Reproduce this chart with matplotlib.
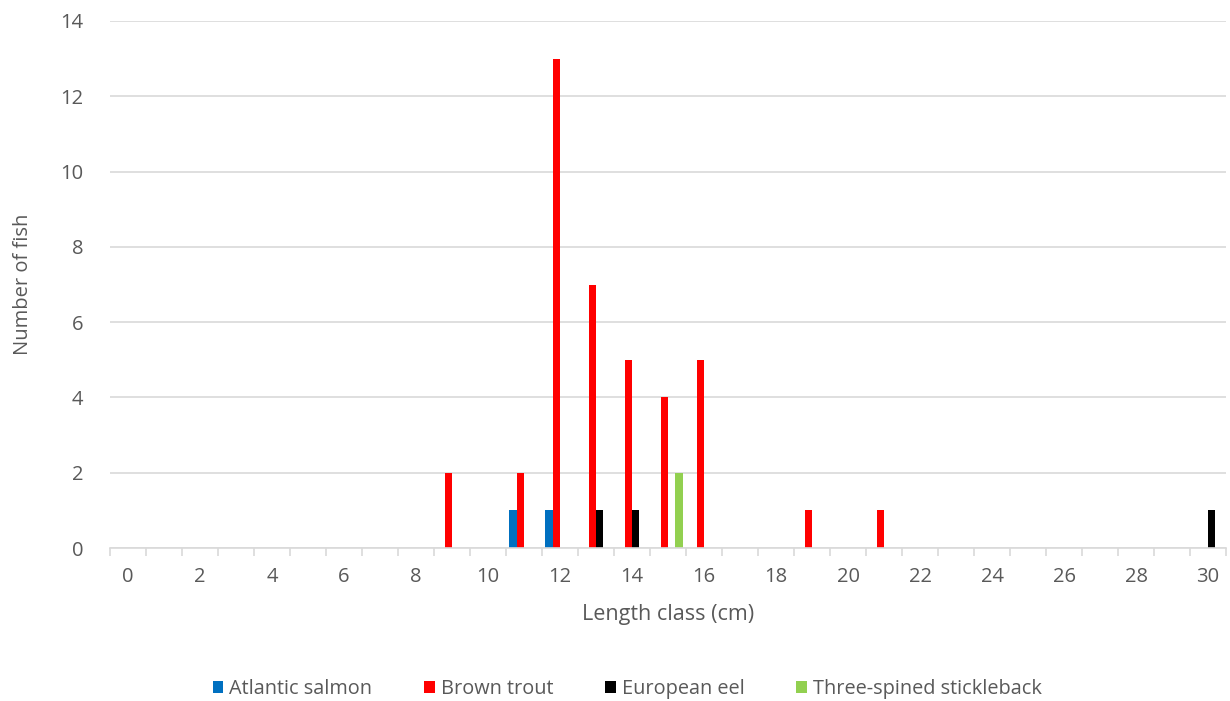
import numpy as np
import matplotlib.pyplot as plt

plt.rcParams['font.family'] = ['Open Sans', 'DejaVu Sans']

length_class = np.arange(0, 31)
salmon = {11: 1, 12: 1}
trout = {9: 2, 11: 2, 12: 13, 13: 7, 14: 5, 15: 4, 16: 5, 19: 1, 21: 1}
eel = {13: 1, 14: 1, 30: 1}
stickleback = {15: 2}

series = [
    ("Atlantic salmon", salmon, "#0070c0"),
    ("Brown trout", trout, "#ff0000"),
    ("European eel", eel, "#000000"),
    ("Three-spined stickleback", stickleback, "#92d050"),
]

fig = plt.figure(figsize=(12.3, 7.01), dpi=100)
ax = fig.add_axes([110 / 1230, 1 - 548 / 701, 1116 / 1230, 527 / 701])

w = 0.203
for i, (name, d, col) in enumerate(series):
    vals = np.array([d.get(int(c), 0) for c in length_class])
    ax.bar(length_class + (i - 1.5) * w, vals, width=w, color=col, label=name)

grey = "#d9d9d9"
txt = "#595959"
ax.set_xlim(-0.5, 30.5)
ax.set_ylim(0, 14)
ax.set_yticks(range(0, 15, 2))
ax.yaxis.grid(True, color=grey, linewidth=1.2)
ax.set_axisbelow(True)
for s in ["top", "right", "left"]:
    ax.spines[s].set_visible(False)
ax.spines["bottom"].set_color(grey)
ax.spines["bottom"].set_linewidth(1.2)

ax.set_xticks(range(0, 31, 2))
ax.set_xticks(np.arange(-0.5, 31, 1), minor=True)
ax.tick_params(axis="x", which="major", length=0, pad=14, labelsize=14.5, labelcolor=txt)
ax.tick_params(axis="x", which="minor", length=6, width=1.2, color=grey)
ax.tick_params(axis="y", length=0, pad=19, labelsize=14.5, labelcolor=txt)

ax.set_xlabel("Length class (cm)", fontsize=15.5, color=txt, labelpad=12)
ax.set_ylabel("Number of fish", fontsize=14.5, color=txt, labelpad=20)

fig.legend(loc="center", bbox_to_anchor=(0.51, 1 - 689 / 701), ncol=4, frameon=False,
           fontsize=14.3, labelcolor=txt, handlelength=0.55, handleheight=0.55,
           handletextpad=0.3, columnspacing=2.6)

fig.savefig("out.png", dpi=100)
